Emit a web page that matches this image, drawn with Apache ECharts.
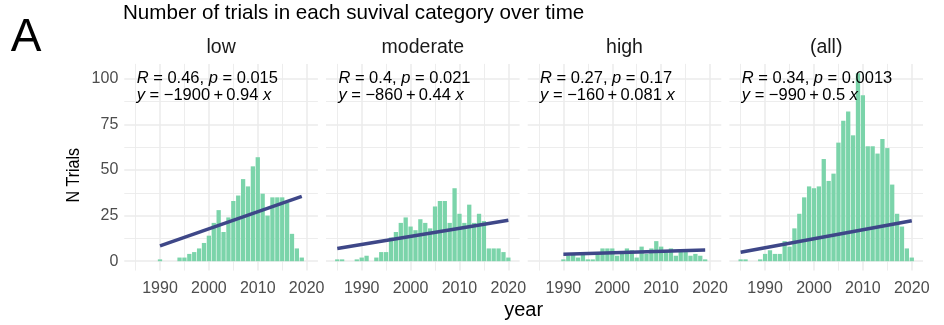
<!DOCTYPE html>
<html><head><meta charset="utf-8">
<script src="https://cdn.jsdelivr.net/npm/echarts@6/dist/echarts.min.js"></script>
<style>html,body{margin:0;padding:0;background:#fff}#c{width:944px;height:325px}</style>
</head><body><div id="c"></div>
<script>
// ---- data ----
const years = [1985,1986,1987,1988,1989,1990,1991,1992,1993,1994,1995,1996,1997,1998,1999,2000,2001,2002,
               2003,2004,2005,2006,2007,2008,2009,2010,2011,2012,2013,2014,2015,2016,2017,2018,2019,2020];
const lowCounts      = [0,0,0,0,0,1,0,0,0,2,2,4,5,7,10,14,21,28,16,24,33,36,45,41,52,57,37,25,35,35,35,32,15,7,2,0];
const moderateCounts = [1,1,0,0,1,2,3,0,2,5,5,13,16,21,24,19,17,23,21,18,30,33,33,21,40,26,21,31,21,26,22,7,7,7,5,2];
const highCounts     = [0,0,0,0,0,1,3,4,2,4,1,1,5,7,7,7,3,5,7,6,2,8,4,7,11,8,5,7,3,6,5,3,4,3,1,0];
const allCounts      = [1,1,0,0,1,4,6,4,4,11,8,18,26,35,41,40,41,56,44,48,65,77,82,69,103,91,63,63,59,67,62,42,26,19,7,2];
const panelNames = ['low','moderate','high','(all)'];
const fitLow      = [[1990, 8.4],[2019, 35.5]];
const fitModerate = [[1985, 7.0],[2020, 22.4]];
const fitHigh     = [[1990, 3.8],[2019, 6.1]];
const fitAll      = [[1985, 4.9],[2020, 22.2]];
const statR = ['0.46','0.4','0.27','0.34'];
const statP = ['0.015','0.021','0.17','0.0013'];
const fitIntercept = ['\u22121900','\u2212860','\u2212160','\u2212990'];
const fitSlope = ['0.94','0.44','0.081','0.5'];
const xMajorTicks = [1990,2000,2010,2020];
const xMinorTicks = [1985,1995,2005,2015];
const yMajorTicks = [0,25,50,75,100];
const yMinorTicks = [12.5,37.5,62.5,87.5];

// ---- layout ----
const FONT = '"Liberation Sans", Arial, Helvetica, sans-serif';
const X_MIN = 1982.7, X_MAX = 2022.3, Y_MIN = -5.15, Y_MAX = 108.15;
const P_LEFT0 = 124.3, P_W = 193.6, P_STEP = 201.7, P_TOP = 63.9, P_H = 206.7;
const BAR_COLOR = '#7bd4aa', LINE_COLOR = '#3e4788', GRID_COLOR = '#ebebeb';
const bandPx = P_W / (X_MAX - X_MIN);
const THIN = '\u2009';
const ANN = 16.5;

const seriesCounts = [lowCounts, moderateCounts, highCounts, allCounts];
const fits = [fitLow, fitModerate, fitHigh, fitAll];

const grids = [], xAxes = [], yAxes = [], series = [], graphics = [];
for (let i = 0; i < 4; i++) {
  const left = P_LEFT0 + i * P_STEP;
  grids.push({left: left, top: P_TOP, width: P_W, height: P_H, containLabel: false});
  xAxes.push({gridIndex: i, type: 'value', min: X_MIN, max: X_MAX, position: 'bottom',
    axisLine: {show: false}, axisTick: {show: false, customValues: xMajorTicks},
    axisLabel: {customValues: xMajorTicks, color: '#4d4d4d', fontSize: 16, fontFamily: FONT, margin: 10,
      formatter: v => String(v)},
    splitLine: {show: true, lineStyle: {color: GRID_COLOR, width: 1.5}}});
  xAxes.push({gridIndex: i, type: 'value', min: X_MIN, max: X_MAX, position: 'top',
    axisLine: {show: false}, axisTick: {show: false, customValues: xMinorTicks},
    axisLabel: {show: false, customValues: xMinorTicks},
    splitLine: {show: true, lineStyle: {color: GRID_COLOR, width: 0.9}}});
  yAxes.push({gridIndex: i, type: 'value', min: Y_MIN, max: Y_MAX,
    axisLine: {show: false}, axisTick: {show: false, customValues: yMajorTicks},
    axisLabel: {show: i === 0, customValues: yMajorTicks, color: '#4d4d4d', fontSize: 16, fontFamily: FONT, margin: 6,
      formatter: v => String(v)},
    splitLine: {show: true, lineStyle: {color: GRID_COLOR, width: 1.5}}});
  yAxes.push({gridIndex: i, type: 'value', min: Y_MIN, max: Y_MAX, position: 'right',
    axisLine: {show: false}, axisTick: {show: false, customValues: yMinorTicks},
    axisLabel: {show: false, customValues: yMinorTicks},
    splitLine: {show: true, lineStyle: {color: GRID_COLOR, width: 0.9}}});
  series.push({type: 'bar', xAxisIndex: 2*i, yAxisIndex: 2*i, barWidth: bandPx - 0.6,
    itemStyle: {color: BAR_COLOR}, silent: true,
    data: years.map((y, k) => [y, seriesCounts[i][k]])});
  series.push({type: 'line', xAxisIndex: 2*i, yAxisIndex: 2*i, symbol: 'none', silent: true,
    lineStyle: {color: LINE_COLOR, width: 3.5}, data: fits[i], z: 5});
  graphics.push({type: 'text', x: left + P_W/2, y: 48,
    style: {text: panelNames[i], fill: '#1a1a1a', fontSize: 19.5, fontFamily: FONT, align: 'center', verticalAlign: 'middle'}});
  graphics.push({type: 'text', x: left + 12.4, y: 78, z: 10,
    style: {text: '{i|R} = ' + statR[i] + ', {i|p} = ' + statP[i], fill: '#000', fontSize: ANN, fontFamily: FONT,
      verticalAlign: 'middle', rich: {i: {fontStyle: 'italic', fontSize: ANN, fontFamily: FONT, fill: '#000'}}}});
  graphics.push({type: 'text', x: left + 12.4, y: 95, z: 10,
    style: {text: '{i|y} = ' + fitIntercept[i] + THIN + '+' + THIN + fitSlope[i] + ' {i|x}', fill: '#000', fontSize: ANN, fontFamily: FONT,
      verticalAlign: 'middle', rich: {i: {fontStyle: 'italic', fontSize: ANN, fontFamily: FONT, fill: '#000'}}}});
}
graphics.push({type: 'text', x: 123, y: 13,
  style: {text: 'Number of trials in each suvival category over time', fill: '#000', fontSize: 20.6, fontFamily: FONT, verticalAlign: 'middle'}});
graphics.push({type: 'text', x: 26, y: 38,
  style: {text: 'A', fill: '#000', fontSize: 46, fontFamily: FONT, align: 'center', verticalAlign: 'middle'}});
graphics.push({type: 'text', x: (P_LEFT0 + P_LEFT0 + 3*P_STEP + P_W)/2, y: 310,
  style: {text: 'year', fill: '#000', fontSize: 20, fontFamily: FONT, align: 'center', verticalAlign: 'middle'}});
graphics.push({type: 'text', x: 74, y: P_TOP + P_H/2 + 8, rotation: Math.PI/2, scaleY: 1.2,
  style: {text: 'N Trials', fill: '#000', fontSize: 16, fontFamily: FONT, align: 'center', verticalAlign: 'middle'}});

const chart = echarts.init(document.getElementById('c'), null, {renderer: 'canvas'});
chart.setOption({animation: false, backgroundColor: '#fff', grid: grids, xAxis: xAxes, yAxis: yAxes, series: series, graphic: graphics});
</script></body></html>
